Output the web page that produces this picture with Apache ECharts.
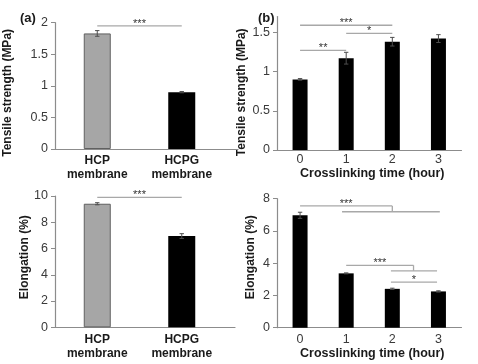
<!DOCTYPE html>
<html><head><meta charset="utf-8">
<script src="https://cdn.jsdelivr.net/npm/echarts@6/dist/echarts.min.js"></script>
<style>html,body{margin:0;padding:0;background:#fff}#c{width:478px;height:364px}</style>
</head><body><div id="c"></div>
<script>
// ---------- data ----------
const membraneCats = ['HCP\nmembrane', 'HCPG\nmembrane'];
const timeCats = ['0', '1', '2', '3'];
const tensileMembrane = [1.83, 0.90];
const tensileMembraneErr = [0.045, 0.01];
const elongMembrane = [9.41, 6.95];
const elongMembraneErr = [0.08, 0.18];
const tensileTime = [0.90, 1.17, 1.38, 1.42];
const tensileTimeErr = [0.01, 0.075, 0.055, 0.05];
const elongTime = [6.97, 3.37, 2.41, 2.25];
const elongTimeErr = [0.19, 0.03, 0.04, 0.04];
const tensileMembraneTicks = [0, 0.5, 1, 1.5, 2];
const tensileTimeTicks = [0, 0.5, 1, 1.5];
const elongMembraneTicks = [0, 2, 4, 6, 8, 10];
const elongTimeTicks = [0, 2, 4, 6, 8];
// significance segments [xStart, yStart, xEnd, yEnd] (category index, value)
const sigSegA1 = [[0, 1.95, 1, 1.95]];
const sigTxtA1 = [[0.5, 1.95, '***']];
const sigSegB1 = [[0, 1.59, 2, 1.59], [1, 1.487, 2, 1.487], [0, 1.27, 1, 1.27]];
const sigTxtB1 = [[1, 1.59, '***'], [1.5, 1.487, '*'], [0.5, 1.27, '**']];
const sigSegA2 = [[0, 9.9, 1, 9.9]];
const sigTxtA2 = [[0.5, 9.9, '***']];
const sigSegB2 = [[0, 7.55, 2, 7.55], [2, 7.55, 2, 7.19], [0.91, 7.19, 3.03, 7.19],
                  [1, 3.87, 2.46, 3.87], [2.46, 3.87, 2.46, 3.53], [1.97, 3.53, 2.97, 3.53],
                  [1.97, 2.83, 2.97, 2.83]];
const sigTxtB2 = [[1, 7.55, '***'], [1.73, 3.87, '***'], [2.47, 2.83, '*']];

// ---------- helpers ----------
const AXIS = '#8c8c8c';
const FONT = 'Liberation Sans, Arial, sans-serif';
function toPx(api, x, y) {
  const i = Math.floor(x + 1e-9);
  const p = api.coord([i, y]);
  const w = api.size([1, 0])[0];
  return [p[0] + (x - i) * w, p[1]];
}
function segSeries(idx, segs) {
  return {
    type: 'custom', xAxisIndex: idx, yAxisIndex: idx, silent: true, z: 5,
    data: segs,
    renderItem: function (params, api) {
      const s = segs[params.dataIndex];
      const a = toPx(api, s[0], s[1]);
      const b = toPx(api, s[2], s[3]);
      return { type: 'line', shape: { x1: a[0], y1: a[1], x2: b[0], y2: b[1] },
        style: { stroke: '#a8a8a8', lineWidth: 1.3 } };
    }
  };
}
function txtSeries(idx, txts) {
  return {
    type: 'custom', xAxisIndex: idx, yAxisIndex: idx, silent: true, z: 6,
    data: txts.map(t => [t[0], t[1]]),
    renderItem: function (params, api) {
      const t = txts[params.dataIndex];
      const p = toPx(api, t[0], t[1]);
      return { type: 'text', x: p[0], y: p[1] - 2,
        style: { text: t[2], fill: '#333', font: '11px ' + FONT, align: 'center', verticalAlign: 'middle' } };
    }
  };
}
function errSeries(idx, vals, errs) {
  const d = vals.map((v, i) => [i, v - errs[i], v + errs[i]]);
  return {
    type: 'custom', xAxisIndex: idx, yAxisIndex: idx, silent: true, z: 4,
    data: d,
    renderItem: function (params, api) {
      const lo = api.coord([api.value(0), api.value(1)]);
      const hi = api.coord([api.value(0), api.value(2)]);
      const c = 2.2;
      const st = { stroke: '#4d4d4d', lineWidth: 1 };
      return { type: 'group', children: [
        { type: 'line', shape: { x1: lo[0], y1: lo[1], x2: hi[0], y2: hi[1] }, style: st },
        { type: 'line', shape: { x1: lo[0] - c, y1: lo[1], x2: lo[0] + c, y2: lo[1] }, style: st },
        { type: 'line', shape: { x1: hi[0] - c, y1: hi[1], x2: hi[0] + c, y2: hi[1] }, style: st }
      ] };
    }
  };
}
function xCat(idx, cats, name, labelStyle, nameGap) {
  return Object.assign({
    type: 'category', gridIndex: idx, data: cats,
    axisLine: { lineStyle: { color: AXIS, width: 1.2 } },
    axisTick: { show: false },
    name: name || '', nameLocation: 'middle', nameGap: nameGap || 16,
    nameTextStyle: { fontFamily: FONT, fontWeight: 'bold', fontSize: 12.5, color: '#1a1a1a', padding: [0, 0, 0, 6] }
  }, labelStyle);
}
function yVal(idx, max, ticks, name, nameGap, pad) {
  return {
    type: 'value', gridIndex: idx, min: 0, max: max,
    splitLine: { show: false },
    axisLine: { show: true, lineStyle: { color: AXIS, width: 1.2 } },
    axisTick: { show: true, length: 4, customValues: ticks, lineStyle: { color: AXIS } },
    axisLabel: { customValues: ticks, margin: 7, fontFamily: FONT, fontSize: 12.5, color: '#3a3a3a' },
    name: name, nameLocation: 'middle', nameGap: nameGap,
    nameTextStyle: { fontFamily: FONT, fontWeight: 'bold', fontSize: 12, color: '#1a1a1a', padding: pad }
  };
}
const catLabelA = { axisLabel: { fontFamily: FONT, fontWeight: 'bold', fontSize: 12, color: '#1a1a1a', lineHeight: 14, margin: 5 } };
const catLabelBTop = { axisLabel: { fontFamily: FONT, fontSize: 12.5, color: '#3a3a3a', margin: 3 } };
const catLabelBBot = { axisLabel: { fontFamily: FONT, fontSize: 12.5, color: '#3a3a3a', margin: 5 } };

const chart = echarts.init(document.getElementById('c'), null, { renderer: 'canvas' });
chart.setOption({
  backgroundColor: '#fff',
  animation: false,
  title: [
    { text: '(a)', left: 15, top: 7, textStyle: { fontFamily: FONT, fontWeight: 'bold', fontSize: 13, color: '#1a1a1a' } },
    { text: '(b)', left: 253, top: 7, textStyle: { fontFamily: FONT, fontWeight: 'bold', fontSize: 13, color: '#1a1a1a' } }
  ],
  grid: [
    { left: 55, top: 22.7, width: 169, height: 126.3 },
    { left: 277, top: 16.6, width: 184.5, height: 133.4 },
    { left: 55, top: 196, width: 169, height: 131.3 },
    { left: 277, top: 198.7, width: 184.5, height: 129 },
    { left: 55, top: 22.7, width: 183, height: 126.3 },
    { left: 55, top: 196, width: 180, height: 131.3 }
  ],
  xAxis: [
    xCat(0, membraneCats, '', catLabelA),
    xCat(1, timeCats, 'Crosslinking time (hour)', catLabelBTop, 14),
    xCat(2, membraneCats, '', catLabelA),
    xCat(3, timeCats, 'Crosslinking time (hour)', catLabelBBot, 18),
    { type: 'value', gridIndex: 4, min: 0, max: 1, axisLine: { lineStyle: { color: AXIS, width: 1.2 } }, axisTick: { show: false }, axisLabel: { show: false }, splitLine: { show: false } },
    { type: 'value', gridIndex: 5, min: 0, max: 1, axisLine: { lineStyle: { color: AXIS, width: 1.2 } }, axisTick: { show: false }, axisLabel: { show: false }, splitLine: { show: false } }
  ],
  yAxis: [
    yVal(0, 2, tensileMembraneTicks, 'Tensile strength (MPa)', 41, [0, 14, 0, 0]),
    yVal(1, 1.7, tensileTimeTicks, 'Tensile strength (MPa)', 29, [0, 18, 0, 0]),
    yVal(2, 10, elongMembraneTicks, 'Elongation (%)', 21, [0, 0, 0, 9]),
    yVal(3, 8, elongTimeTicks, 'Elongation (%)', 20, [0, 0, 0, 12]),
    { type: 'value', gridIndex: 4, show: false, min: 0, max: 1 },
    { type: 'value', gridIndex: 5, show: false, min: 0, max: 1 }
  ],
  series: [
    { type: 'bar', xAxisIndex: 0, yAxisIndex: 0, barWidth: 27, z: 3,
      data: tensileMembrane.map((v, i) => ({ value: v, itemStyle: i === 0 ? { color: '#a6a6a6', borderColor: '#606060', borderWidth: 1 } : { color: '#000' } })) },
    { type: 'bar', xAxisIndex: 1, yAxisIndex: 1, barWidth: 15, z: 3, itemStyle: { color: '#000' }, data: tensileTime },
    { type: 'bar', xAxisIndex: 2, yAxisIndex: 2, barWidth: 27, z: 3,
      data: elongMembrane.map((v, i) => ({ value: v, itemStyle: i === 0 ? { color: '#a6a6a6', borderColor: '#606060', borderWidth: 1 } : { color: '#000' } })) },
    { type: 'bar', xAxisIndex: 3, yAxisIndex: 3, barWidth: 15, z: 3, itemStyle: { color: '#000' }, data: elongTime },
    errSeries(0, tensileMembrane, tensileMembraneErr),
    errSeries(1, tensileTime, tensileTimeErr),
    errSeries(2, elongMembrane, elongMembraneErr),
    errSeries(3, elongTime, elongTimeErr),
    segSeries(0, sigSegA1), txtSeries(0, sigTxtA1),
    segSeries(1, sigSegB1), txtSeries(1, sigTxtB1),
    segSeries(2, sigSegA2), txtSeries(2, sigTxtA2),
    segSeries(3, sigSegB2), txtSeries(3, sigTxtB2)
  ]
});
</script></body></html>
